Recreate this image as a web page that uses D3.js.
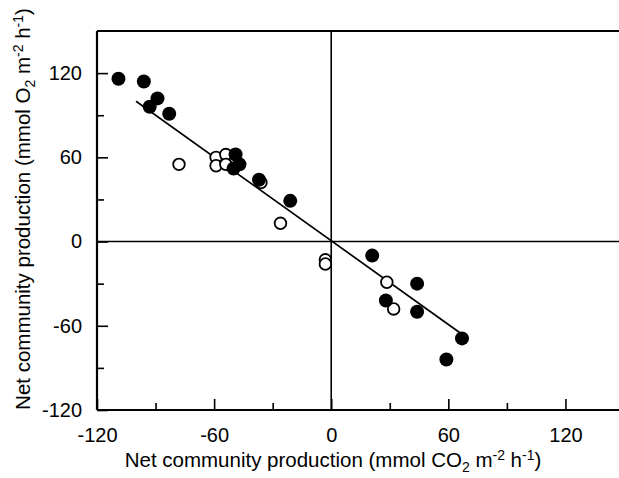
<!DOCTYPE html>
<html>
<head>
<meta charset="utf-8">
<script src="https://cdn.jsdelivr.net/npm/d3@7"></script>
<style>
  html, body { margin: 0; padding: 0; background: #fff; }
  svg { display: block; }
  text { font-family: "Liberation Sans", Arial, Helvetica, sans-serif; fill: #000; }
</style>
</head>
<body>
<svg id="chart" width="619" height="478"></svg>
<script>
// ---- data ----
const filledX = [-109, -96, -89, -93, -83, -49, -47, -50, -37, -21, 21, 44, 28, 44, 67, 59];
const filledY = [116, 114, 102, 96, 91, 62, 55, 52, 44, 29, -10, -30, -42, -50, -69, -84];
const openX = [-78, -59, -54, -59, -54, -36, -26, -3, -3, 28.5, 32];
const openY = [55, 60, 62, 54, 55, 42, 13, -13, -16, -29, -48];
const fitX = [-100, 67];
const fitY = [100, -66];
const majorTicks = [-120, -60, 0, 60, 120];
const minorTicks = [-90, -30, 30, 90];
const xTitle = ["Net community production (mmol CO", "2", " m", "-2", " h", "-1", ")"];
const yTitle = ["Net community production (mmol O", "2", " m", "-2", " h", "-1", ")"];

// ---- layout ----
const svg = d3.select("#chart");
const x = d3.scaleLinear().domain([-120, 150]).range([97, 624]);
const y = d3.scaleLinear().domain([-120, 150]).range([410, 31]);
const FS = 20;
const TFS = 20.5;

// zero lines
svg.append("line").attr("x1", x(-120)).attr("x2", x(150)).attr("y1", y(0)).attr("y2", y(0))
  .attr("stroke", "#000").attr("stroke-width", 1.6);
svg.append("line").attr("x1", x(0)).attr("x2", x(0)).attr("y1", y(-120)).attr("y2", y(150))
  .attr("stroke", "#000").attr("stroke-width", 1.6);

// axes with inward ticks
const gx = svg.append("g").attr("transform", `translate(0,${y(-120)})`)
  .call(d3.axisBottom(x).tickValues(majorTicks).tickSizeInner(-11).tickSizeOuter(0).tickPadding(18).tickFormat(d3.format("d")));
const gxm = svg.append("g").attr("transform", `translate(0,${y(-120)})`)
  .call(d3.axisBottom(x).tickValues(minorTicks).tickSizeInner(-7).tickSizeOuter(0).tickFormat(""));
const gy = svg.append("g").attr("transform", `translate(${x(-120)},0)`)
  .call(d3.axisLeft(y).tickValues(majorTicks).tickSizeInner(-11).tickSizeOuter(0).tickPadding(15).tickFormat(d3.format("d")));
const gym = svg.append("g").attr("transform", `translate(${x(-120)},0)`)
  .call(d3.axisLeft(y).tickValues(minorTicks).tickSizeInner(-7).tickSizeOuter(0).tickFormat(""));
[gx, gxm, gy, gym].forEach(g => {
  g.select(".domain").remove();
  g.selectAll(".tick line").attr("stroke", "#000").attr("stroke-width", 1.6);
  g.selectAll("text").attr("font-size", FS).attr("font-family", null).attr("fill", "#000");
});
gx.selectAll("text").text(d => d < 0 ? "-" + Math.abs(d) : d);
gy.selectAll("text").text(d => d < 0 ? "-" + Math.abs(d) : d);

// frame
const frame = svg.append("g").attr("stroke", "#000").attr("stroke-width", 2.2).attr("fill", "none");
frame.append("line").attr("x1", x(-120)).attr("x2", x(-120)).attr("y1", y(150)).attr("y2", y(-120));
frame.append("line").attr("x1", x(-120)).attr("x2", x(150)).attr("y1", y(-120)).attr("y2", y(-120));
frame.append("line").attr("x1", x(-120)).attr("x2", x(150)).attr("y1", y(150)).attr("y2", y(150));
frame.append("line").attr("x1", x(150)).attr("x2", x(150)).attr("y1", y(150)).attr("y2", y(-120));

// regression line
svg.append("line")
  .attr("x1", x(fitX[0])).attr("y1", y(fitY[0]))
  .attr("x2", x(fitX[1])).attr("y2", y(fitY[1]))
  .attr("stroke", "#000").attr("stroke-width", 1.7);

// open circles
svg.append("g").selectAll("circle").data(openX.map((v, i) => [v, openY[i]])).join("circle")
  .attr("cx", d => x(d[0])).attr("cy", d => y(d[1])).attr("r", 5.8)
  .attr("fill", "#fff").attr("stroke", "#000").attr("stroke-width", 1.8);

// filled circles
svg.append("g").selectAll("circle").data(filledX.map((v, i) => [v, filledY[i]])).join("circle")
  .attr("cx", d => x(d[0])).attr("cy", d => y(d[1])).attr("r", 7)
  .attr("fill", "#000");

// titles with sub/superscripts
function title(sel, parts) {
  parts.forEach((p, i) => {
    const t = sel.append("tspan").text(p);
    if (i === 1) t.attr("font-size", 14).attr("dy", 5);
    else if (i === 2) t.attr("dy", -5);
    else if (i === 3 || i === 5) t.attr("font-size", 14).attr("dy", -7);
    else if (i === 4 || i === 6) t.attr("dy", 7);
  });
}
const xt = svg.append("text").attr("x", 333).attr("y", 467).attr("text-anchor", "middle").attr("font-size", TFS);
title(xt, xTitle);
const yt = svg.append("text").attr("transform", "translate(30,209) rotate(-90)").attr("text-anchor", "middle").attr("font-size", TFS);
title(yt, yTitle);
</script>
</body>
</html>
